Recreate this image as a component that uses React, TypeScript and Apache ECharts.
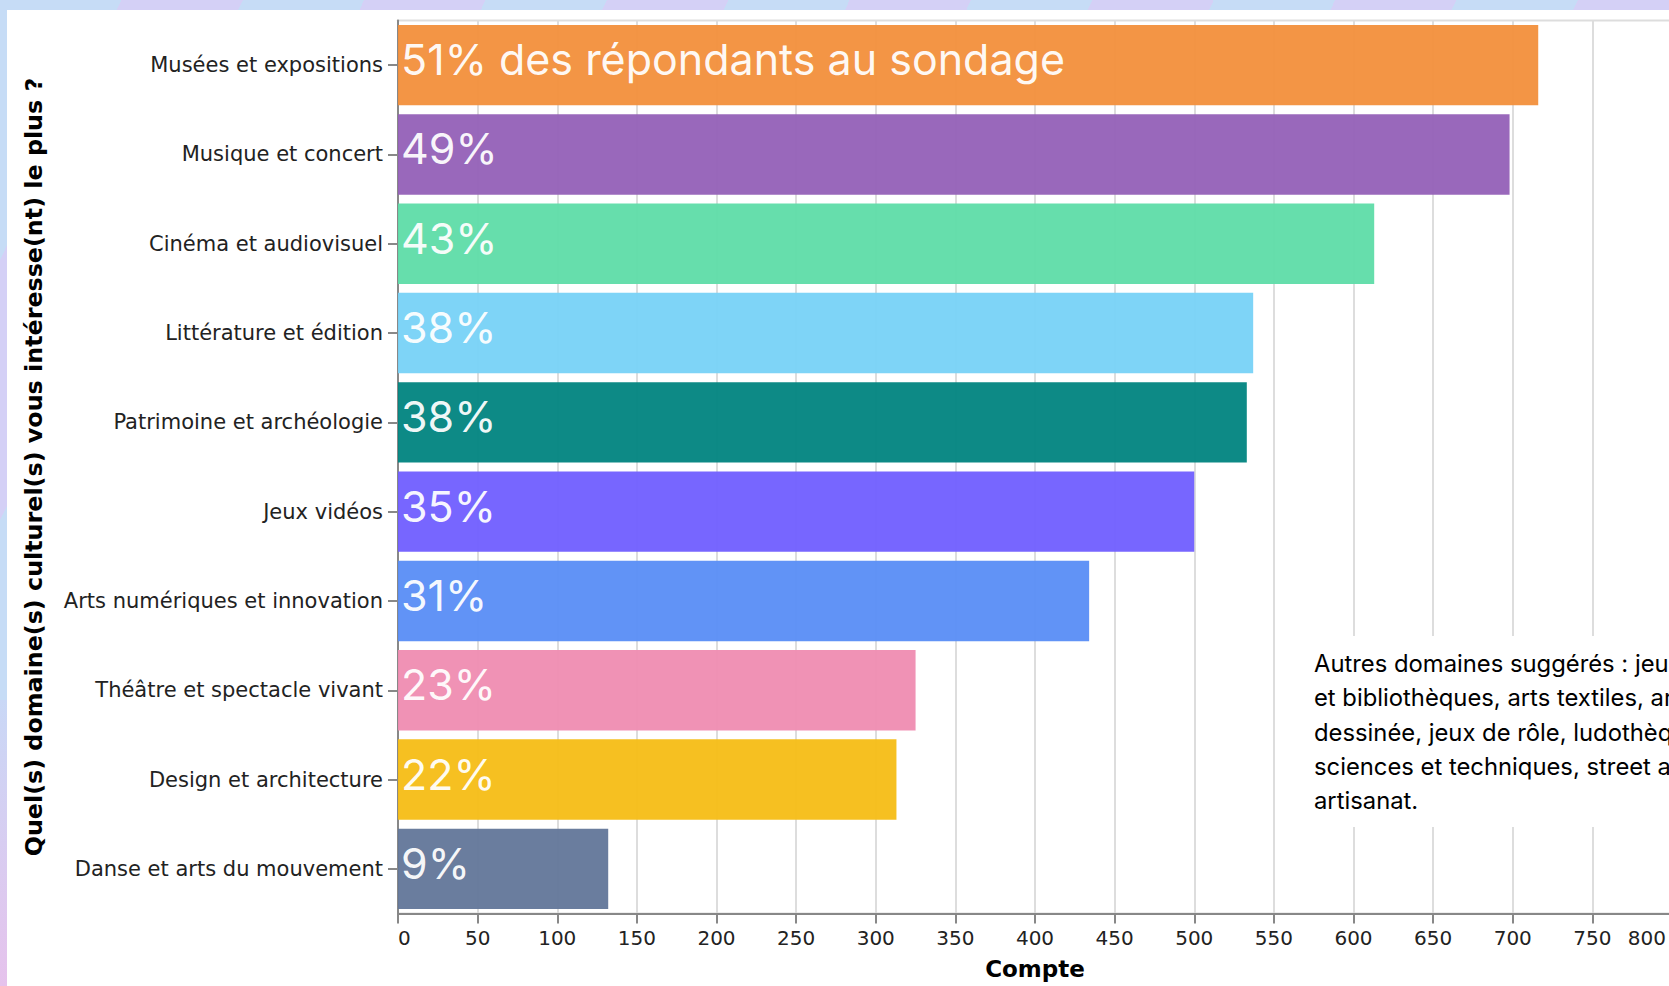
import React, { useEffect, useRef } from "react";
import * as echarts from "echarts";

const categories = [
  "Musées et expositions",
  "Musique et concert",
  "Cinéma et audiovisuel",
  "Littérature et édition",
  "Patrimoine et archéologie",
  "Jeux vidéos",
  "Arts numériques et innovation",
  "Théâtre et spectacle vivant",
  "Design et architecture",
  "Danse et arts du mouvement",
];
const counts = [716, 698, 613, 537, 533, 500, 434, 325, 313, 132];
const percentLabels = [
  "51% des répondants au sondage",
  "49%",
  "43%",
  "38%",
  "38%",
  "35%",
  "31%",
  "23%",
  "22%",
  "9%",
];
const barColors = [
  "#F28F3B",
  "#9360B7",
  "#5EDCA8",
  "#77D2F7",
  "#00847F",
  "#705EFF",
  "#598DF5",
  "#EF8CB1",
  "#F5BD15",
  "#627699",
];
const xMin = 0;
const xMax = 800;
const xInterval = 50;
const xTitle = "Compte";
const yTitle = "Quel(s) domaine(s) culturel(s) vous intéresse(nt) le plus ?";
const noteLines = [
  "Autres domaines suggérés : jeux de société, médiathèques",
  "et bibliothèques, arts textiles, arts culinaires, bande",
  "dessinée, jeux de rôle, ludothèques, gastronomie,",
  "sciences et techniques, street art, mode et",
  "artisanat.",
];

export default function App() {
  const ref = useRef<HTMLDivElement>(null);
  useEffect(() => {
    if (!ref.current) return;
    const chart = echarts.init(ref.current, null, { renderer: "svg" });
    const axisFont = "DejaVu Sans";
    chart.setOption({
      animation: false,
      grid: {
        left: 398,
        top: 20.5,
        width: 1274,
        height: 893,
        show: true,
        borderColor: "#ddd",
        borderWidth: 2,
        backgroundColor: "transparent",
      },
      xAxis: {
        type: "value",
        min: xMin,
        max: xMax,
        interval: xInterval,
        name: xTitle,
        nameLocation: "middle",
        nameGap: 44,
        nameTextStyle: { fontFamily: axisFont, fontWeight: "bold", fontSize: 23, color: "#000" },
        axisLine: { show: true, lineStyle: { color: "#888", width: 2 } },
        axisTick: { show: true, length: 10, lineStyle: { color: "#888", width: 2 } },
        axisLabel: {
          fontFamily: axisFont,
          fontSize: 20,
          color: "#222",
          margin: 14,
          showMinLabel: true,
          showMaxLabel: true,
          alignMinLabel: "left",
          alignMaxLabel: "right",
          formatter: (v: number) => (v === xMax ? `{m|${v}}` : String(v)),
          rich: {
            m: {
              fontFamily: axisFont,
              fontSize: 20,
              color: "#222",
              padding: [0, 6, 0, 0],
            },
          },
        },
        splitLine: { show: true, lineStyle: { color: "#ddd", width: 2 } },
      },
      yAxis: {
        type: "category",
        data: categories,
        inverse: true,
        name: yTitle,
        nameLocation: "middle",
        nameGap: 352,
        nameTextStyle: { fontFamily: axisFont, fontWeight: "bold", fontSize: 23.8, color: "#000" },
        axisLine: { show: true, lineStyle: { color: "#888", width: 2 } },
        axisTick: { show: true, alignWithLabel: true, length: 10, lineStyle: { color: "#888", width: 2 } },
        axisLabel: { fontFamily: axisFont, fontSize: 21, color: "#222", margin: 15 },
        splitLine: { show: false },
      },
      series: [
        {
          type: "bar",
          data: counts.map((v, i) => ({ value: v, itemStyle: { color: barColors[i] } })),
          barCategoryGap: "10%",
          itemStyle: { opacity: 0.95 },
          label: {
            show: true,
            position: "insideLeft",
            distance: 3,
            offset: [0, -6],
            formatter: (p: any) => percentLabels[p.dataIndex],
            color: "#fff",
            fontFamily: "Inter",
            fontWeight: 400,
            fontSize: 43,
          },
        },
      ],
      graphic: [
        {
          type: "rect",
          z: 100,
          shape: { x: 1300, y: 636, width: 420, height: 191 },
          style: { fill: "#fff" },
        },
        {
          type: "text",
          z: 101,
          x: 1314,
          y: 646,
          style: {
            text: noteLines.join("\n"),
            fontFamily: "Inter",
            fontSize: 23.8,
            lineHeight: 34.4,
            fill: "#000",
            verticalAlign: "top",
          },
        },
      ],
    });
    return () => chart.dispose();
  }, []);

  return (
    <div
      style={{
        position: "fixed",
        left: 0,
        top: 0,
        width: 1669,
        height: 986,
        overflow: "hidden",
        background:
          "repeating-linear-gradient(115deg, #c6dcf6 0px, #c6dcf6 110px, #d4d0f6 110px, #d4d0f6 220px)",
      }}
    >
      <div
        style={{
          position: "absolute",
          left: 0,
          top: 700,
          width: 7,
          height: 286,
          background: "linear-gradient(180deg, #c9d8f6, #e6c2ec)",
        }}
      />
      <div
        style={{
          position: "absolute",
          left: 7,
          top: 10,
          right: 0,
          bottom: 0,
          background: "#fff",
        }}
      />
      <div
        ref={ref}
        style={{ position: "absolute", left: 0, top: 0, width: 1700, height: 986 }}
      />
    </div>
  );
}
